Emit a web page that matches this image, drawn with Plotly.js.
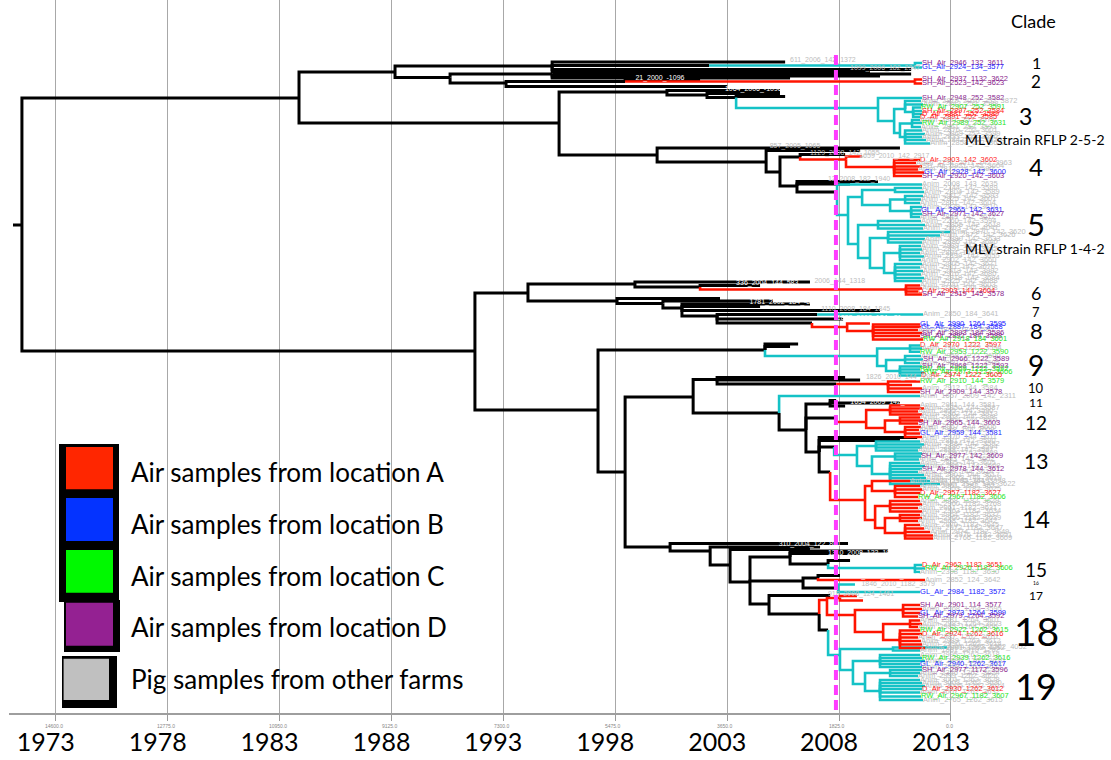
<!DOCTYPE html>
<html><head><meta charset="utf-8">
<script src="https://cdn.plot.ly/plotly-3.0.1.min.js"></script>
<style>html,body{margin:0;padding:0;background:#fff}#chart{width:1111px;height:760px}</style>
</head><body><div id="chart"></div>
<script>
// ---------------- DATA ----------------
// time axis
const tickYears = [1973, 1978, 1983, 1988, 1993, 1998, 2003, 2008, 2013];
const tickLabels = ['1973', '1978', '1983', '1988', '1993', '1998', '2003', '2008', '2013'];
const axisDays = ['14600.0', '12775.0', '10950.0', '9125.0', '7300.0', '5475.0', '3650.0', '1825.0', '0.0'];
const cutoffYear = 2007.86;

// tree nodes: [id, parent, year, row, branchColour, tipLabel, labelColour]
const backbone = [
  ['r0', '', 1971.09, 225, 'k'],
  ['r', 'r0', 1971.49, 225, 'k'],
  ['T', 'r', 1983.87, 98, 'k'],
  ['L', 'r', 1991.73, 351, 'k']
];
const clades1to2 = [
  ['A', 'T', 1988.16, 72, 'k'],
  ['A1', 'A', 1995.18, 66, 'k'],
  ['k1', 'A1', 2005.59, 62, 'k'],
  ['c1', 'A1', 2002.19, 65.5, 'k'],
  ['c1n', 'c1', 2011.39, 65.5, 'c'],
  ['t1a', 'c1n', 2011.71, 63, 'c', 'SH_Air_2946_132_3611', 'P'],
  ['t1b', 'c1n', 2011.71, 67.5, 'c', 'GL_Air_2924_134_3577', 'B'],
  ['k2', 'A1', 2011.22, 69.5, 'k'],
  ['k3', 'A1', 2009.38, 71.5, 'k'],
  ['A2', 'A', 1990.62, 77.5, 'k'],
  ['A2a', 'A2', 1995.18, 74, 'k'],
  ['k4', 'A2a', 2011.22, 74, 'k'],
  ['k5', 'A2a', 2009.83, 76, 'k'],
  ['k6', 'A2a', 2005.81, 78, 'k'],
  ['A2b', 'A2', 1993.12, 83, 'k'],
  ['k7', 'A2b', 2003.00, 86.5, 'k'],
  ['A2c', 'A2b', 1998.44, 81.5, 'k'],
  ['k8', 'A2c', 2001.79, 79.5, 'k'],
  ['r2n', 'A2c', 2011.39, 81.5, 'r'],
  ['t2a', 'r2n', 2011.71, 79.5, 'r', 'SH_Air_2937_1132_3622', 'P'],
  ['t2b', 'r2n', 2011.71, 83.5, 'r', 'SH_Air_2523_142_3623', 'P']
];
const clade3 = [
  ['B', 'T', 1995.49, 123, 'k'],
  ['B1', 'B', 2000.31, 92, 'k'],
  ['k9', 'B1', 2005.36, 90.5, 'k'],
  ['B1a', 'B1', 2002.10, 95, 'k'],
  ['k10', 'B1a', 2005.36, 93.5, 'k'],
  ['B1b', 'B1a', 2003.40, 97.5, 'k'],
  ['k11', 'B1b', 2005.59, 96.5, 'k'],
  ['c3', 'B1b', 2009.74, 108, 'c'],
  ['t3a', 'c3', 2011.71, 98, 'c', 'SH_Air_2948_252_3582', 'P'],
  ['c3b', 'c3', 2010.46, 121, 'c'],
  ['c3c', 'c3b', 2010.95, 109, 'c'],
  ['t3b', 'c3c', 2011.66, 101, 'c', 'Anim_2819_2010_252_3872', 'g'],
  ['t3c', 'c3c', 2011.75, 104.5, 'c', 'Anim_2842_252_3588', 'g'],
  ['c3d', 'c3c', 2011.31, 112, 'c'],
  ['t3d', 'c3d', 2011.66, 107.5, 'c', 'RW_Air_2907_252_3591', 'G'],
  ['t3e', 'c3d', 2011.71, 111, 'c', 'SH_Air_2897_252_3584', 'R'],
  ['t3f', 'c3d', 2011.71, 114, 'c', 'D_Air_2881_252_3589', 'R'],
  ['t3g', 'c3d', 2011.62, 117, 'c', 'D_Air_2891_252_3585', 'R'],
  ['c3e', 'c3b', 2010.72, 133, 'c'],
  ['c3f', 'c3e', 2011.26, 123.5, 'c'],
  ['t3h', 'c3f', 2011.62, 120, 'c', 'Anim_2811_252_3574', 'g'],
  ['t3i', 'c3f', 2011.71, 123, 'c', 'RW_Air_2989_252_3631', 'G'],
  ['t3j', 'c3f', 2011.66, 127, 'c', 'Anim_2861_252_3593', 'g'],
  ['c3g', 'c3e', 2010.95, 137, 'c'],
  ['t3k', 'c3g', 2011.71, 130.5, 'c', 'Anim_2876_252_3601', 'g'],
  ['t3l', 'c3g', 2011.84, 134, 'c', 'Anim_2869_252_3599', 'g'],
  ['t3m', 'c3g', 2011.71, 137, 'c', 'Anim_2833_252_3580', 'g'],
  ['t3n', 'c3g', 2011.89, 140, 'c', 'Anim_2842_252_3620', 'g'],
  ['t3o', 'c3g', 2012.07, 143.5, 'c', 'Anim_2858_252_3622', 'g']
];
const clade4 = [
  ['B2', 'B', 1999.87, 155, 'k'],
  ['k12', 'B2', 2010.72, 148, 'k'],
  ['P', 'B2', 2004.74, 162, 'k'],
  ['k13', 'P', 2008.94, 150.5, 'k'],
  ['Q', 'P', 2005.36, 172, 'k'],
  ['Q1', 'Q', 2006.26, 157, 'k'],
  ['k14', 'Q1', 2008.27, 154.5, 'k'],
  ['r4', 'Q1', 2008.31, 159.5, 'r'],
  ['t4a', 'r4', 2009.03, 156.5, 'r'],
  ['r4b', 'r4', 2010.46, 167, 'r'],
  ['t4b', 'r4b', 2011.62, 160, 'r', 'D_Air_2903_142_3602', 'R'],
  ['t4c', 'r4b', 2011.44, 163, 'r', 'Anim_2731_2011_142_3963', 'g'],
  ['t4d', 'r4b', 2011.71, 166.5, 'r', 'SH_Air_2921_142_3604', 'g'],
  ['t4e', 'r4b', 2011.53, 169.5, 'r', 'Anim_2812_142_3590', 'g'],
  ['t4f', 'r4b', 2011.80, 172.5, 'r', 'GL_Air_2928_142_3600', 'B'],
  ['t4g', 'r4b', 2011.71, 176, 'r', 'SH_Air_2920_142_3603', 'P']
];
const clade5 = [
  ['Q2', 'Q', 2006.12, 186, 'k'],
  ['k16', 'Q2', 2009.74, 181.5, 'k'],
  ['k17', 'Q2', 2008.49, 184, 'k'],
  ['c5', 'Q2', 2007.91, 192, 'k'],
  ['t5a', 'c5', 2011.71, 184.5, 'c', 'Anim_2008_143_2635', 'g'],
  ['c5a', 'c5', 2008.40, 215, 'c'],
  ['c5b', 'c5a', 2009.03, 197, 'c'],
  ['c5b1', 'c5b', 2010.50, 190, 'c'],
  ['t5b', 'c5b1', 2011.71, 188, 'c', 'Anim_2744_142_3589', 'g'],
  ['t5c', 'c5b1', 2011.80, 192, 'c', 'Anim_2804_142_3589', 'g'],
  ['c5b2', 'c5b', 2010.28, 205, 'c'],
  ['c5b3', 'c5b2', 2010.95, 199.5, 'c'],
  ['t5d', 'c5b3', 2011.75, 196, 'c', 'Anim_2812_142_3593', 'g'],
  ['t5e', 'c5b3', 2011.66, 199.5, 'c', 'Anim_2825_142_3601', 'g'],
  ['t5f', 'c5b3', 2011.62, 203, 'c', 'Anim_2831_142_3604', 'g'],
  ['c5b4', 'c5b2', 2011.22, 211, 'c'],
  ['t5g', 'c5b4', 2011.71, 207, 'c', 'Anim_2838_142_3610', 'g'],
  ['t5h', 'c5b4', 2011.66, 210.5, 'c', 'GL_Air_2965_142_3631', 'B'],
  ['t5i', 'c5b4', 2011.71, 214, 'c', 'SH_Air_2971_142_3627', 'P'],
  ['t5j', 'c5b4', 2011.62, 217, 'c', 'Anim_2849_142_3612', 'g'],
  ['c5c', 'c5a', 2008.85, 244, 'c'],
  ['c5c1', 'c5c', 2009.74, 225, 'c'],
  ['t5k', 'c5c1', 2011.66, 221, 'c', 'Anim_2260_142_3594', 'g'],
  ['t5l', 'c5c1', 2011.84, 225, 'c', 'Anim_2855_142_3618', 'g'],
  ['t5m', 'c5c1', 2011.75, 228.5, 'c', 'Anim_2863_142_4041', 'g'],
  ['c5c2', 'c5c', 2009.38, 258, 'c'],
  ['c5c3', 'c5c2', 2010.19, 238, 'c'],
  ['t5n', 'c5c3', 2012.96, 232, 'c', 'Anim_2870_142_3620', 'g'],
  ['t5o', 'c5c3', 2012.51, 235.5, 'c', 'Anim_2872_142_3626', 'g'],
  ['t5p', 'c5c3', 2011.84, 239, 'c', 'Anim_2880_142_3633', 'g'],
  ['t5q', 'c5c3', 2011.71, 242.5, 'c', 'Anim_2886_142_3640', 'g'],
  ['c5c4', 'c5c2', 2010.01, 268, 'c'],
  ['c5c5', 'c5c4', 2010.72, 253, 'c'],
  ['t5r', 'c5c5', 2011.66, 246, 'c', 'Anim_2889_142_4031', 'g'],
  ['t5s', 'c5c5', 2011.71, 249.5, 'c', 'Anim_2891_142_3642', 'g'],
  ['t5t', 'c5c5', 2011.62, 253, 'c', 'Anim_2894_142_3650', 'g'],
  ['t5u', 'c5c5', 2011.80, 256.5, 'c', 'Anim_2899_142_3655', 'g'],
  ['t5v', 'c5c5', 2011.66, 260, 'c', 'Anim_2902_142_3660', 'g'],
  ['c5c6', 'c5c4', 2010.50, 273, 'c'],
  ['t5w', 'c5c6', 2011.71, 264, 'c', 'Anim_2905_142_3671', 'g'],
  ['t5x', 'c5c6', 2011.62, 267.5, 'c', 'Anim_2911_142_3676', 'g'],
  ['t5y', 'c5c6', 2011.75, 271, 'c', 'Anim_2913_142_3992', 'g'],
  ['t5z', 'c5c6', 2011.66, 274.5, 'c', 'Anim_2916_142_3680', 'g'],
  ['t5aa', 'c5c6', 2011.80, 278, 'c', 'Anim_2918_142_3684', 'g'],
  ['t5ab', 'c5c6', 2011.71, 281, 'c', 'Anim_2925_142_3688', 'g']
];
const clades6to8 = [
  ['L1', 'L', 1994.10, 293, 'k'],
  ['L1a', 'L1', 1998.88, 284, 'k'],
  ['k20', 'L1a', 2006.70, 282, 'k'],
  ['L1b', 'L1a', 2001.79, 287, 'k'],
  ['k21', 'L1b', 2004.47, 285.5, 'k'],
  ['r6', 'L1b', 2010.99, 289.5, 'r'],
  ['t6a', 'r6', 2011.62, 285.5, 'r', 'Anim_2720_144_3603', 'g'],
  ['t6b', 'r6', 2011.71, 288.5, 'r', 'Anim_2731_144_3608', 'g'],
  ['t6c', 'r6', 2011.53, 291.5, 'r', 'D_Air_2903_144_3604', 'R'],
  ['t6d', 'r6', 2011.71, 294.5, 'r', 'SH_Air_2919_145_3578', 'P'],
  ['L1c', 'L1', 1998.08, 301, 'k'],
  ['k22', 'L1c', 2002.68, 298.5, 'k'],
  ['L1e', 'L1c', 2000.13, 303.5, 'k'],
  ['k23', 'L1e', 2005.05, 301, 'k'],
  ['L1f', 'L1e', 2000.98, 308, 'k'],
  ['k24', 'L1f', 2006.70, 304, 'k'],
  ['k26', 'L1f', 2004.47, 306.5, 'k'],
  ['k25', 'L1f', 2009.83, 310.5, 'k'],
  ['L1g', 'L1f', 2002.55, 316, 'k'],
  ['c7n', 'L1g', 2007.02, 314.5, 'k'],
  ['t7a', 'c7n', 2011.75, 314.5, 'c', 'Anim_2850_184_3641', 'g'],
  ['k27', 'L1g', 2008.18, 319, 'k'],
  ['L1h', 'L1g', 2006.79, 323, 'k'],
  ['r8', 'L1h', 2008.36, 327, 'r'],
  ['t8a', 'r8', 2009.38, 323.5, 'r'],
  ['r8a', 'r8', 2009.52, 331, 'r'],
  ['t8b', 'r8a', 2011.62, 324.5, 'r', 'GL_Air_2990_1264_3595', 'B'],
  ['t8c', 'r8a', 2011.66, 327, 'r', 'GL_Air_2887_184_3588', 'B'],
  ['t8d', 'r8a', 2011.53, 330, 'r', 'Anim_2896_184_3590', 'g'],
  ['t8e', 'r8a', 2011.71, 333, 'r', 'SH_Air_2893_184_3586', 'P'],
  ['t8f', 'r8a', 2011.62, 336, 'r', 'SH_Air_2892_184_3588', 'P'],
  ['t8g', 'r8a', 2011.75, 339.5, 'r', 'RW_Air_2918_184_3601', 'G']
];
const clade9 = [
  ['L2', 'L', 1997.23, 410, 'k'],
  ['L2a', 'L2', 2004.69, 350, 'k'],
  ['k30', 'L2a', 2006.17, 344, 'k'],
  ['k30b', 'L2a', 2005.81, 346.5, 'k'],
  ['c9', 'L2a', 2009.70, 356, 'c'],
  ['c9a', 'c9', 2011.17, 348.5, 'c'],
  ['t9a', 'c9a', 2011.62, 345.5, 'c', 'D_Air_2970_1222_3597', 'R'],
  ['t9b', 'c9a', 2011.71, 348.5, 'c', 'Anim_2941_1222_3594', 'g'],
  ['t9c', 'c9a', 2011.62, 351.7, 'c', 'RW_Air_2953_1222_3590', 'G'],
  ['c9b', 'c9', 2010.10, 366, 'c'],
  ['c9c', 'c9b', 2010.95, 360, 'c'],
  ['t9d', 'c9c', 2011.66, 356, 'c', 'Anim_2958_1222_3600', 'g'],
  ['t9e', 'c9c', 2011.75, 359.5, 'c', 'SH_Air_2966_1222_3589', 'P'],
  ['t9f', 'c9c', 2011.62, 363, 'c', 'Anim_2960_1222_3595', 'g'],
  ['c9d', 'c9b', 2010.72, 371, 'c'],
  ['t9g', 'c9d', 2011.71, 366.5, 'c', 'SH_Air_2968_1222_3593', 'P'],
  ['t9h', 'c9d', 2011.62, 369.5, 'c', 'RW_Air_2969_1222_3592', 'G'],
  ['t9i', 'c9d', 2011.80, 372.5, 'c', 'RW_Air_2973_1222_3606', 'G'],
  ['t9j', 'c9d', 2011.66, 375.5, 'c', 'D_Air_2974_1222_3605', 'R']
];
const clades10to14 = [
  ['L2b', 'L2', 1998.44, 472, 'k'],
  ['M', 'L2b', 2001.48, 397, 'k'],
  ['M1', 'M', 2002.55, 379.5, 'k'],
  ['k31', 'M1', 2008.27, 377.5, 'k'],
  ['k32', 'M1', 2008.94, 380, 'k'],
  ['r10n', 'M1', 2007.87, 384, 'k'],
  ['r10', 'r10n', 2010.19, 384, 'r'],
  ['t10a', 'r10', 2011.62, 381.5, 'r', 'RW_Air_2910_144_3579', 'G'],
  ['t10b', 'r10', 2011.26, 385, 'r'],
  ['t10c', 'r10', 2011.71, 388.5, 'r', 'Anim_2912_144_3584', 'g'],
  ['t10d', 'r10', 2011.62, 392, 'r', 'SH_Air_2909_144_3578', 'P'],
  ['N', 'M', 2005.32, 413, 'k'],
  ['t11', 'N', 2011.62, 396, 'c', 'Anim_1657_2009_142_2311', 'g'],
  ['O', 'N', 2006.52, 430, 'k'],
  ['O1', 'O', 2007.60, 404, 'k'],
  ['k33', 'O1', 2010.72, 403, 'k'],
  ['k34', 'O1', 2008.27, 406, 'k'],
  ['k35', 'O1', 2007.87, 400.5, 'k'],
  ['O2', 'O', 2007.87, 418, 'k'],
  ['r12', 'O2', 2009.21, 422, 'r'],
  ['r12a', 'r12', 2010.28, 410, 'r'],
  ['t12a', 'r12a', 2011.62, 405.5, 'r', 'Anim_2941_144_3581', 'g'],
  ['t12b', 'r12a', 2011.80, 408.5, 'r', 'Anim_2950_144_3587', 'g'],
  ['t12c', 'r12a', 2011.53, 411.5, 'r', 'Anim_2955_144_3590', 'g'],
  ['t12d', 'r12a', 2011.71, 414.5, 'r', 'Anim_2962_144_3913', 'g'],
  ['r12b', 'r12', 2010.05, 428, 'r'],
  ['r12c', 'r12b', 2010.72, 420.5, 'r'],
  ['t12e', 'r12c', 2011.62, 417.5, 'r', 'Anim_2963_144_3598', 'g'],
  ['t12f', 'r12c', 2011.75, 420.5, 'r', 'Anim_2964_144_3601', 'g'],
  ['t12g', 'r12c', 2011.53, 423.5, 'r', 'SH_Air_2965_144_3603', 'P'],
  ['r12d', 'r12b', 2010.95, 432, 'r'],
  ['t12h', 'r12d', 2011.66, 427, 'r', 'Anim_2967_144_3606', 'g'],
  ['t12i', 'r12d', 2011.57, 430, 'r', 'Anim_2968_144_3609', 'g'],
  ['t12j', 'r12d', 2011.62, 433.5, 'r', 'GL_Air_2959_144_3581', 'B'],
  ['t12k', 'r12d', 2011.71, 437, 'r', 'Anim_2970_144_3611', 'g'],
  ['O3', 'O', 2007.11, 452, 'k'],
  ['k36', 'O3', 2011.49, 437.5, 'k'],
  ['k37', 'O3', 2010.72, 440.5, 'k'],
  ['O3a', 'O3', 2007.78, 447, 'k'],
  ['c13', 'O3a', 2008.80, 455, 'c'],
  ['c13a', 'c13', 2009.65, 446, 'c'],
  ['t13a', 'c13a', 2011.62, 441.5, 'c', 'Anim_2881_142_3590', 'g'],
  ['t13b', 'c13a', 2011.80, 444.5, 'c', 'Anim_2884_142_3592', 'g'],
  ['t13c', 'c13a', 2011.71, 447.5, 'c', 'Anim_2886_142_3594', 'g'],
  ['t13d', 'c13a', 2011.53, 450.5, 'c', 'Anim_2888_142_3597', 'g'],
  ['c13b', 'c13', 2009.47, 466, 'c'],
  ['c13c', 'c13b', 2010.50, 456.5, 'c'],
  ['t13e', 'c13c', 2011.71, 453.5, 'c', 'Anim_2890_142_3599', 'g'],
  ['t13f', 'c13c', 2011.66, 456.5, 'c', 'SH_Air_2977_142_3609', 'P'],
  ['t13g', 'c13c', 2011.57, 459.5, 'c', 'Anim_2893_142_3602', 'g'],
  ['c13d', 'c13b', 2010.28, 474, 'c'],
  ['t13h', 'c13d', 2011.62, 463, 'c', 'Anim_2895_144_3605', 'g'],
  ['t13i', 'c13d', 2011.84, 466, 'c', 'Anim_2897_144_3608', 'g'],
  ['t13j', 'c13d', 2011.71, 469, 'c', 'SH_Air_2978_144_3612', 'P'],
  ['t13k', 'c13d', 2011.53, 472, 'c', 'Anim_2899_144_3614', 'g'],
  ['t13l', 'c13d', 2011.80, 475, 'c', 'Anim_2901_144_3617', 'g'],
  ['t13m', 'c13d', 2011.89, 478, 'c', 'Anim_2903_144_3619', 'g'],
  ['t13n', 'c13d', 2012.07, 481, 'c', 'Anim_2905_144_3998', 'g'],
  ['t13o', 'c13d', 2012.51, 484, 'c', 'Anim_2907_144_3622', 'g'],
  ['O3c', 'O3', 2007.60, 472, 'k'],
  ['r14', 'O3c', 2009.16, 500, 'r'],
  ['r14a', 'r14', 2009.47, 486, 'r'],
  ['t14a', 'r14a', 2011.17, 481, 'r', 'Anim_2327_1182_3619', 'g'],
  ['r14a1', 'r14a', 2010.50, 491, 'r'],
  ['t14b', 'r14a1', 2011.62, 486, 'r', 'Anim_2951_1182_3622', 'g'],
  ['t14c', 'r14a1', 2011.71, 489.5, 'r', 'Anim_2953_1182_3625', 'g'],
  ['t14d', 'r14a1', 2011.62, 493, 'r', 'D_Air_2957_1182_3627', 'R'],
  ['t14e', 'r14a1', 2011.53, 497, 'r', 'RW_Air_2967_1182_3606', 'G'],
  ['r14b', 'r14', 2009.61, 520, 'r'],
  ['r14c', 'r14b', 2010.28, 506, 'r'],
  ['t14f', 'r14c', 2011.62, 501, 'r', 'Anim_2958_1182_3629', 'g'],
  ['t14g', 'r14c', 2011.71, 504.5, 'r', 'Anim_2960_1182_3768', 'g'],
  ['t14h', 'r14c', 2011.53, 508, 'r', 'Anim_2961_1182_3631', 'g'],
  ['t14i', 'r14c', 2011.71, 511.5, 'r', 'Anim_2963_1182_3634', 'g'],
  ['r14d', 'r14b', 2010.05, 528, 'r'],
  ['r14e', 'r14d', 2010.72, 518, 'r'],
  ['t14j', 'r14e', 2011.62, 515, 'r', 'Anim_2964_1182_3637', 'g'],
  ['t14k', 'r14e', 2011.71, 518, 'r', 'Anim_2966_1182_3639', 'g'],
  ['t14l', 'r14e', 2011.53, 521, 'r', 'Anim_2968_1182_3642', 'g'],
  ['r14f', 'r14d', 2010.95, 533, 'r'],
  ['t14m', 'r14f', 2011.62, 525, 'r', 'Anim_2970_1182_3645', 'g'],
  ['t14n', 'r14f', 2011.80, 528.5, 'r', 'Anim_2972_1182_3647', 'g'],
  ['t14o', 'r14f', 2012.07, 532, 'r', 'Anim_2974_1182_3649', 'g'],
  ['t14p', 'r14f', 2012.20, 535.5, 'r', 'Anim_2976_1182_3651', 'g'],
  ['t14q', 'r14f', 2012.20, 538.5, 'r', 'Anim_2766_1182_3609', 'g']
];
const clades15to19 = [
  ['S0', 'L2b', 2000.45, 547, 'k'],
  ['k40', 'S0', 2008.40, 543.5, 'k'],
  ['S1', 'S0', 2002.24, 551, 'k'],
  ['k41', 'S1', 2007.15, 547, 'k'],
  ['S2', 'S1', 2003.13, 565, 'k'],
  ['k42', 'S2', 2006.70, 549.5, 'k'],
  ['S3', 'S2', 2004.02, 582, 'k'],
  ['S5', 'S3', 2005.81, 557, 'k'],
  ['k43', 'S5', 2010.19, 551, 'k'],
  ['k44', 'S5', 2008.94, 553.5, 'k'],
  ['S5a', 'S5', 2007.51, 564, 'k'],
  ['k45', 'S5a', 2008.49, 560.5, 'k'],
  ['c15', 'S5a', 2011.39, 568, 'c'],
  ['t15a', 'c15', 2011.71, 565, 'c', 'D_Air_2962_1182_3651', 'R'],
  ['t15b', 'c15', 2011.84, 568.5, 'c', 'RW_Air_2926_1182_3606', 'G'],
  ['t15c', 'c15', 2011.62, 572, 'c', 'Anim_2398_1182_3630', 'g'],
  ['S5b', 'S3', 2006.39, 581, 'k'],
  ['S5c', 'S5b', 2007.06, 578, 'k'],
  ['k46', 'S5c', 2008.04, 575.5, 'k'],
  ['t16', 'S5c', 2011.84, 580, 'r', 'Anim_2852_124_3642', 'g'],
  ['c17n', 'S5b', 2007.96, 588, 'k'],
  ['t17a', 'c17n', 2008.71, 584.5, 'c'],
  ['t17b', 'c17n', 2011.62, 592, 'c', 'GL_Air_2984_1182_3572', 'B'],
  ['S6', 'S3', 2004.87, 604, 'k'],
  ['k47', 'S6', 2007.60, 595.5, 'k'],
  ['S7', 'S6', 2007.11, 614, 'k'],
  ['R18', 'S7', 2007.46, 600, 'r'],
  ['r18a', 'R18', 2008.04, 598, 'r'],
  ['t18a', 'r18a', 2008.80, 596, 'r'],
  ['t18b', 'r18a', 2009.07, 600.5, 'r'],
  ['r18b', 'R18', 2008.71, 615, 'r'],
  ['r18c', 'r18b', 2010.86, 610, 'r'],
  ['t18c', 'r18c', 2011.62, 605, 'r', 'SH_Air_2901_114_3577', 'P'],
  ['t18d', 'r18c', 2011.71, 609, 'r', 'Anim_2968_1264_3595', 'g'],
  ['t18e', 'r18c', 2011.62, 613, 'r', 'GL_Air_2973_1264_3599', 'B'],
  ['t18f', 'r18c', 2011.53, 616.5, 'r', 'SH_Air_2979_1264_3592', 'P'],
  ['r18d', 'r18b', 2009.97, 632, 'r'],
  ['r18e', 'r18d', 2011.17, 624, 'r'],
  ['t18g', 'r18e', 2011.62, 620.5, 'r', 'Anim_2981_1264_3601', 'g'],
  ['t18h', 'r18e', 2011.71, 624, 'r', 'Anim_2983_1264_3603', 'g'],
  ['t18i', 'r18e', 2011.53, 627, 'r', 'Anim_2985_1264_3606', 'g'],
  ['r18f', 'r18d', 2010.72, 640, 'r'],
  ['t18j', 'r18f', 2011.62, 630.5, 'r', 'RW_Air_2922_1262_3615', 'G'],
  ['t18k', 'r18f', 2011.71, 634, 'r', 'D_Air_2924_1262_3616', 'R'],
  ['t18l', 'r18f', 2011.53, 637.5, 'r', 'Anim_2987_1262_3610', 'g'],
  ['t18m', 'r18f', 2011.66, 641, 'r', 'Anim_2989_1262_3612', 'g'],
  ['t18n', 'r18f', 2011.71, 644.5, 'r', 'Anim_2990_1262_3614', 'g'],
  ['t18o', 'r18f', 2011.84, 648, 'r', 'Anim_2991_1262_4052', 'g'],
  ['C19a', 'S7', 2007.51, 630, 'k'],
  ['c19', 'C19a', 2008.04, 655, 'c'],
  ['c19a', 'c19', 2010.41, 649, 'c'],
  ['t19a', 'c19a', 2012.83, 647.5, 'c', 'Anim_2993_1262_4052', 'g'],
  ['t19b', 'c19a', 2011.62, 650.5, 'c', 'Anim_1881_2010_1262', 'g'],
  ['c19b', 'c19', 2008.62, 670, 'c'],
  ['c19c', 'c19b', 2009.83, 661, 'c'],
  ['t19c', 'c19c', 2011.62, 655, 'c', 'Anim_2995_1262_3618', 'g'],
  ['t19d', 'c19c', 2011.71, 658, 'c', 'RW_Air_2939_1262_3616', 'G'],
  ['t19e', 'c19c', 2011.84, 661, 'c', 'Anim_2996_1262_3620', 'g'],
  ['t19f', 'c19c', 2011.62, 664, 'c', 'GL_Air_2940_1262_3617', 'B'],
  ['t19g', 'c19c', 2011.71, 667, 'c', 'Anim_2998_1262_3622', 'g'],
  ['c19d', 'c19b', 2009.16, 684, 'c'],
  ['c19e', 'c19d', 2010.28, 673, 'c'],
  ['t19h', 'c19e', 2011.71, 670, 'c', 'SH_Air_2977_1172_3596', 'P'],
  ['t19i', 'c19e', 2011.62, 673, 'c', 'Anim_2346_1262_3624', 'g'],
  ['t19j', 'c19e', 2011.53, 676, 'c', 'Anim_2999_1262_3626', 'g'],
  ['c19f', 'c19d', 2009.83, 691, 'c'],
  ['t19k', 'c19f', 2011.62, 680, 'c', 'Anim_3001_1262_3628', 'g'],
  ['t19l', 'c19f', 2011.71, 683, 'c', 'Anim_3003_1262_3630', 'g'],
  ['t19m', 'c19f', 2011.84, 686, 'c', 'Anim_3005_1262_3614', 'g'],
  ['t19n', 'c19f', 2011.71, 689, 'c', 'D_Air_2930_1262_3612', 'R'],
  ['t19o', 'c19f', 2011.62, 692.5, 'c', 'Anim_3007_1262_3632', 'g'],
  ['t19p', 'c19f', 2011.66, 696.5, 'c', 'RW_Air_2967_1182_3607', 'G'],
  ['t19q', 'c19f', 2011.75, 700, 'c', 'Anim_2765_1262_3615', 'g']
];
// labels written along internal branches: [text, year, row, colour]
const branchNotes = [
  ['611_2006_142_1372', 2005.81, 60.5, 'g'],
  ['1099_2006_182_2347', 2008.49, 68.5, 'g'],
  ['21_2000_-1096', 1998.90, 78.5, 'w'],
  ['1064_2006_-1096', 2002.90, 89, 'w'],
  ['857_2005_1065', 2004.90, 146.5, 'g'],
  ['1129_2008_142_1055', 2006.70, 153.5, 'g'],
  ['1659_2010_142_2917', 2008.90, 156, 'g'],
  ['12_2008_182_1940', 2007.50, 179.5, 'g'],
  ['336_2004_144_583', 2003.40, 283, 'w'],
  ['2006_144_1318', 2006.90, 281.5, 'g'],
  ['1781_2002_184_-82', 2004.00, 302, 'w'],
  ['1110_2008_184_1845', 2007.20, 309, 'g'],
  ['1822_2008_184_-31', 2007.90, 318.5, 'w'],
  ['1826_2010_144_3581', 2009.20, 377.5, 'g'],
  ['1654_2009_142_1869', 2008.50, 402.5, 'w'],
  ['310_2004_122_801', 2005.30, 544, 'w'],
  ['1310_2008_122_1981', 2007.50, 553, 'w'],
  ['1406_2010_1182_2613', 2008.30, 576, 'w'],
  ['918_2008_124_1461', 2007.50, 594.5, 'g'],
  ['1846_2010_1182_3579', 2009.00, 584.5, 'g']
];
const cladeTitle = 'Clade';
const cladeNames = ['1','2','3','4','5','6','7','8','9','10','11','12','13','14','15','16','17','18','19'];
const strainNotes = ['MLV strain RFLP 2-5-2', 'MLV strain RFLP 1-4-2'];
const legendNames = ['Air samples from location A', 'Air samples from location B',
  'Air samples from location C', 'Air samples from location D', 'Pig samples from other farms'];

// ---------------- STYLE / LAYOUT ----------------
const branchColours = {k: '#000000', c: '#14c2c6', r: '#ff1400'};
const branchWidths = {k: 3, c: 2.6, r: 2.6};
const labelColours = {P: '#8a1e8e', B: '#2020ff', G: '#1de61d', R: '#ff1a1a', g: '#bdbdbd', w: '#ffffff'};
const legendColours = ['#ff2600', '#0433ff', '#00f900', '#942192', '#c0c0c0'];
const cladeLabelLayout = [ // [row, font size]
  [62.5,16],[81,17],[115.5,23],[166.5,24],[224,31],[293,18],[311.5,13],[330.5,22],[365,28],
  [387.5,13],[402,12],[422,19],[460.5,21],[518.5,24],[569,19],[583,5],[595,12],[631,39],[685.5,36]];
const W = 1111;

const allNodes = [].concat(backbone, clades1to2, clade3, clade4, clade5, clades6to8, clade9, clades10to14, clades15to19);
const byId = {};
allNodes.forEach(n => { byId[n[0]] = n; });
const segs = {k: {x: [], y: []}, c: {x: [], y: []}, r: {x: [], y: []}};
allNodes.forEach(n => {
  const p = byId[n[1]];
  if (!p) return;
  const s = segs[n[4]];
  s.x.push(p[2], p[2], n[2], null);
  s.y.push(p[3], n[3], n[3], null);
});

const traces = ['k', 'c', 'r'].map(c => ({
  type: 'scatter', mode: 'lines', x: segs[c].x, y: segs[c].y,
  line: {color: branchColours[c], width: branchWidths[c]}, hoverinfo: 'skip', connectgaps: false
}));

const tips = allNodes.filter(n => n[5]);
traces.push({
  type: 'scatter', mode: 'text',
  x: tips.map(n => n[2]), y: tips.map(n => n[3]), text: tips.map(n => n[5]),
  textposition: 'middle right', cliponaxis: false, hoverinfo: 'skip',
  textfont: {family: 'Liberation Sans, Arial, sans-serif', size: 7.5, color: tips.map(n => labelColours[n[6]])}
});
traces.push({
  type: 'scatter', mode: 'text',
  x: branchNotes.map(n => n[1]), y: branchNotes.map(n => n[2]), text: branchNotes.map(n => n[0]),
  textposition: 'middle right', cliponaxis: false, hoverinfo: 'skip',
  textfont: {family: 'Liberation Sans, Arial, sans-serif', size: 7, color: branchNotes.map(n => labelColours[n[3]])}
});

const shapes = [];
// hide grid above tree top
shapes.push({type: 'rect', xref: 'paper', yref: 'y', x0: 0, x1: 1, y0: 0, y1: 62, fillcolor: '#fff', line: {width: 0}, layer: 'between'});
// white boxes behind legend text
[[444,493],[499,545],[551,597],[603,648],[654,700]].forEach(r => shapes.push({
  type: 'rect', xref: 'paper', yref: 'y', x0: 122 / W, x1: 472 / W, y0: r[0], y1: r[1],
  fillcolor: '#fff', line: {width: 0}, layer: 'between'}));
// axis line
shapes.push({type: 'line', xref: 'paper', yref: 'paper', x0: 9 / W, x1: 951 / W, y0: 0, y1: 0, line: {color: '#9e9e9e', width: 2}});
// sampling cut-off dashed line
shapes.push({type: 'line', xref: 'x', yref: 'y', x0: cutoffYear, x1: cutoffYear, y0: 55, y1: 714,
  line: {color: '#ff3cff', width: 4, dash: '10px,5px'}, layer: 'above'});
// legend swatches
const black = (x0, x1, y0, y1) => shapes.push({type: 'rect', xref: 'paper', yref: 'y', x0: x0 / W, x1: x1 / W, y0, y1, fillcolor: '#000', line: {width: 0}});
black(59, 119, 444, 602); black(64, 120, 600, 652); black(62, 117, 656, 708);
[[66,113,447,489.3],[66,113,498,541],[66,113,550,592.7],[66,113,602.7,645.7],[63.6,109,658.7,700]].forEach((b, i) =>
  shapes.push({type: 'rect', xref: 'paper', yref: 'y', x0: b[0] / W, x1: b[1] / W, y0: b[2], y1: b[3], fillcolor: legendColours[i], line: {width: 0}}));

const annotations = [];
annotations.push({text: cladeTitle, xref: 'paper', yref: 'y', x: 1033 / W, y: 21, showarrow: false, xanchor: 'center', yanchor: 'middle', font: {family: 'Lato', size: 18, color: '#000'}});
cladeNames.forEach((t, i) => annotations.push({
  text: t, xref: 'paper', yref: 'y', x: (i === 2 ? 1025 : 1036) / W, y: cladeLabelLayout[i][0], showarrow: false,
  xanchor: 'center', yanchor: 'middle', font: {family: 'Lato', size: cladeLabelLayout[i][1], color: '#000'}}));
[[139], [248.5]].forEach((r, i) => annotations.push({
  text: strainNotes[i], xref: 'paper', yref: 'y', x: 1107 / W, y: r[0], showarrow: false,
  xanchor: 'right', yanchor: 'middle', font: {family: 'Lato', size: 14, color: '#000'}}));
[473, 525, 577, 628, 680].forEach((r, i) => annotations.push({
  text: legendNames[i], xref: 'paper', yref: 'y', x: 129 / W, y: r - 1, showarrow: false,
  xanchor: 'left', yanchor: 'middle', font: {family: 'Lato', size: 26, color: '#000'}}));
tickYears.forEach((yr, i) => annotations.push({
  text: axisDays[i], xref: 'x', yref: 'paper', x: yr - 0.08, y: -0.017, showarrow: false,
  xanchor: 'center', yanchor: 'middle', font: {family: 'Liberation Sans', size: 5, color: '#888'}}));

const layout = {
  width: 1111, height: 760,
  margin: {l: 0, r: 0, t: 0, b: 46, pad: 0},
  paper_bgcolor: '#fff', plot_bgcolor: '#fff', showlegend: false,
  xaxis: {range: [1970.51, 2020.15], tickmode: 'array', tickvals: tickYears, ticktext: tickLabels,
    showgrid: true, gridcolor: '#a8a8a8', gridwidth: 1, zeroline: false, showline: false,
    ticks: 'outside', ticklen: 6, tickcolor: '#9a9a9a', tickwidth: 1,
    tickfont: {family: 'Lato', size: 25, color: '#000'}, ticklabelshift: -10, ticklabelstandoff: 0, fixedrange: true},
  yaxis: {range: [714, 0], visible: false, fixedrange: true},
  shapes, annotations
};
Plotly.newPlot('chart', traces, layout, {displayModeBar: false, staticPlot: true});
</script></body></html>
